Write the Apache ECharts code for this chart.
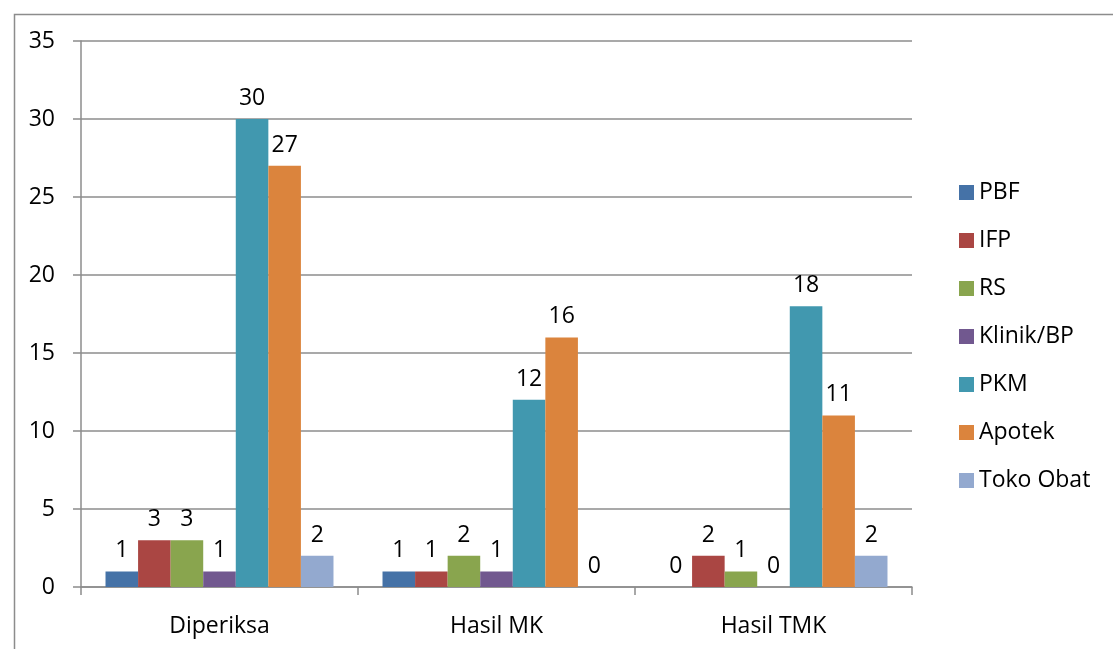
<!DOCTYPE html>
<html>
<head>
<meta charset="utf-8">
<script src="https://cdn.jsdelivr.net/npm/echarts@6/dist/echarts.min.js"></script>
<style>html,body{margin:0;padding:0;background:#fff;}#c{width:1113px;height:649px;}</style>
</head>
<body>
<div id="c"></div>
<script>
const categories = ['Diperiksa', 'Hasil MK', 'Hasil TMK'];
const seriesNames = ['PBF', 'IFP', 'RS', 'Klinik/BP', 'PKM', 'Apotek', 'Toko Obat'];
const PBF = [1, 1, 0];
const IFP = [3, 1, 2];
const RS = [3, 2, 1];
const KlinikBP = [1, 1, 0];
const PKM = [30, 12, 18];
const Apotek = [27, 16, 11];
const TokoObat = [2, 0, 2];
const yTicks = [0, 5, 10, 15, 20, 25, 30, 35];

const values = [PBF, IFP, RS, KlinikBP, PKM, Apotek, TokoObat];
const colors = ['#4572A7', '#AA4643', '#89A54E', '#71588F', '#4198AF', '#DB843D', '#93A9CF'];
const FONT = '"Open Sans", "Liberation Sans", sans-serif';

const chart = echarts.init(document.getElementById('c'), null, {renderer: 'canvas'});
chart.setOption({
  animation: false,
  backgroundColor: '#fff',
  graphic: [{
    type: 'rect', left: 12, top: 12,
    shape: {width: 1300, height: 800},
    style: {fill: 'none', stroke: '#8c8c8c', lineWidth: 1.5},
    silent: true, z: -1
  }],
  grid: {left: 81, right: 201, top: 41, bottom: 62, containLabel: false},
  legend: {
    orient: 'vertical',
    left: 954, top: 176,
    itemWidth: 15, itemHeight: 15, itemGap: 25,
    icon: 'rect',
    textStyle: {fontFamily: FONT, fontSize: 23, color: '#000', padding: [0, 0, 0, 0]},
    data: seriesNames
  },
  xAxis: {
    type: 'category',
    data: categories,
    axisLine: {lineStyle: {color: '#8c8c8c', width: 1.5}},
    axisTick: {show: true, length: 8, lineStyle: {color: '#8c8c8c', width: 1.5}},
    axisLabel: {fontFamily: FONT, fontSize: 23, color: '#000', margin: 28},
    splitLine: {show: false}
  },
  yAxis: {
    type: 'value',
    min: yTicks[0], max: yTicks[yTicks.length - 1], interval: 5,
    axisLine: {show: true, lineStyle: {color: '#8c8c8c', width: 1.5}},
    axisTick: {show: true, length: 8, lineStyle: {color: '#8c8c8c', width: 1.5}},
    axisLabel: {fontFamily: FONT, fontSize: 23, color: '#000', margin: 26},
    splitLine: {show: true, lineStyle: {color: '#8c8c8c', width: 1.5}}
  },
  series: seriesNames.map((n, i) => ({
    name: n,
    type: 'bar',
    data: values[i],
    barGap: '0%',
    barCategoryGap: '17.7%',
    itemStyle: {color: colors[i], borderWidth: 0},
    label: {show: true, position: 'top', distance: 9, fontFamily: FONT, fontSize: 23, color: '#000'}
  }))
});
</script>
</body>
</html>
